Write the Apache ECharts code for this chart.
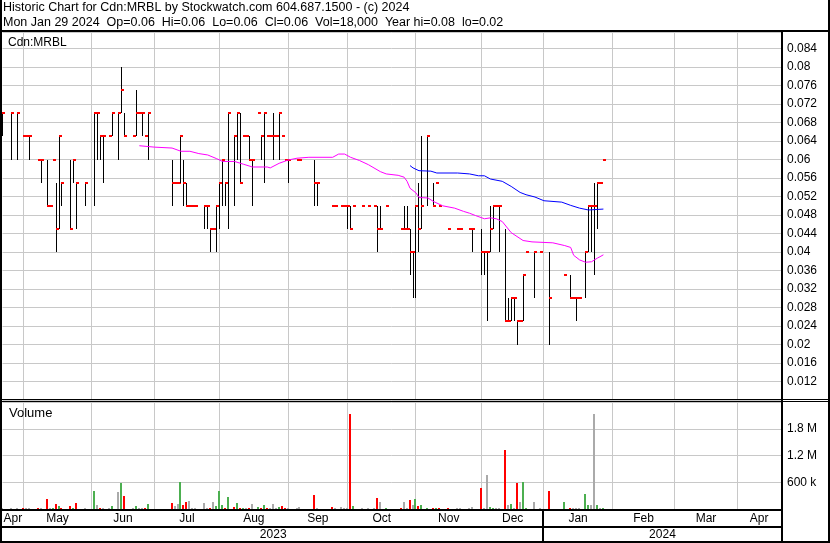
<!DOCTYPE html>
<html><head><meta charset="utf-8">
<script src="https://cdn.jsdelivr.net/npm/echarts@6/dist/echarts.min.js"></script>
<style>html,body{margin:0;padding:0;background:#fff;}#c{width:830px;height:543px;}</style>
</head><body><div id="c"></div>
<script>
const FONT_FAMILY = 'Liberation Sans, Arial, sans-serif';

// ---- texts ----
const headerTitle = 'Historic Chart for Cdn:MRBL by Stockwatch.com 604.687.1500 - (c) 2024';
const headerStats = 'Mon Jan 29 2024  Op=0.06  Hi=0.06  Lo=0.06  Cl=0.06  Vol=18,000  Year hi=0.08  lo=0.02';
const paneTitle = 'Cdn:MRBL';
const volumeTitle = 'Volume';

// ---- daily data ----
const dates = [
 '2023-04-20','2023-04-25','2023-04-27','2023-05-01','2023-05-02','2023-05-03','2023-05-08','2023-05-09','2023-05-11','2023-05-12','2023-05-15','2023-05-16','2023-05-17','2023-05-18','2023-05-23','2023-05-24','2023-05-25','2023-05-30','2023-06-02','2023-06-05','2023-06-06','2023-06-07','2023-06-09','2023-06-12','2023-06-14','2023-06-15','2023-06-16','2023-06-21','2023-06-22','2023-06-23','2023-06-26','2023-06-27','2023-06-28',
 '2023-07-10','2023-07-11','2023-07-12','2023-07-13','2023-07-14','2023-07-17','2023-07-18','2023-07-19','2023-07-20','2023-07-25','2023-07-26','2023-07-27','2023-07-28','2023-07-31',
 '2023-08-01','2023-08-02','2023-08-03','2023-08-04','2023-08-08','2023-08-09','2023-08-10','2023-08-11','2023-08-14','2023-08-15','2023-08-16','2023-08-18','2023-08-21','2023-08-22','2023-08-23','2023-08-24','2023-08-25','2023-08-28','2023-08-29','2023-08-30','2023-08-31',
 '2023-09-01','2023-09-06','2023-09-07','2023-09-14','2023-09-15','2023-09-22','2023-09-25','2023-09-27','2023-09-28','2023-09-29',
 '2023-10-02','2023-10-03','2023-10-06','2023-10-10','2023-10-12','2023-10-13','2023-10-16','2023-10-18','2023-10-25','2023-10-26','2023-10-27','2023-10-30','2023-10-31',
 '2023-11-01','2023-11-02','2023-11-03','2023-11-07','2023-11-09','2023-11-10','2023-11-13','2023-11-16','2023-11-21','2023-11-22','2023-11-27','2023-11-28',
 '2023-12-01','2023-12-04','2023-12-05','2023-12-06','2023-12-07','2023-12-08','2023-12-11','2023-12-13','2023-12-14','2023-12-15','2023-12-18','2023-12-19','2023-12-20','2023-12-21','2023-12-22','2023-12-27','2023-12-29',
 '2024-01-03','2024-01-10','2024-01-12','2024-01-15','2024-01-16','2024-01-17','2024-01-19','2024-01-22','2024-01-23','2024-01-24','2024-01-25','2024-01-26','2024-01-29'
];
const highs = [
 .07,.07,.07,.065,.065,.065,.06,.06,.06,.05,.06,.055,.065,.055,.06,.06,.055,.055,.07,.07,.065,.065,.065,.07,.07,.08,.07,.065,.075,.07,.07,.065,.07,
 .06,.055,.055,.065,.06,.055,.05,.05,.05,.05,.05,.045,.045,.05,
 .055,.06,.055,.07,.065,.07,.07,.065,.065,.065,.06,.07,.065,.07,.065,.065,.07,.065,.07,.065,.06,
 .06,.06,.06,.06,.055,.05,.05,.05,.05,.05,
 .05,.05,.05,.05,.05,.05,.05,.05,.045,.05,.05,.045,.04,
 .05,.055,.065,.065,.055,.055,.05,.045,.045,.045,.045,.045,
 .045,.04,.04,.05,.05,.05,.05,.045,.03,.03,.03,.025,.025,.035,.04,.04,.04,
 .04,.035,.035,.03,.03,.03,.04,.05,.05,.055,.055,.055,.06
];
const lows = [
 .065,.06,.06,.065,.065,.06,.06,.055,.05,.05,.06,.04,.045,.05,.045,.055,.045,.05,.05,.06,.06,.055,.065,.065,.06,.07,.065,.065,.065,.07,.065,.065,.06,
 .05,.055,.055,.055,.05,.05,.05,.05,.05,.045,.045,.04,.045,.04,
 .045,.05,.05,.045,.05,.06,.055,.065,.065,.06,.05,.07,.06,.055,.065,.065,.06,.065,.06,.065,.06,
 .055,.06,.06,.05,.05,.05,.05,.05,.05,.045,
 .045,.05,.05,.05,.05,.04,.045,.05,.045,.045,.045,.035,.03,
 .03,.04,.045,.05,.05,.055,.05,.045,.045,.045,.045,.04,
 .035,.035,.025,.04,.045,.05,.04,.025,.025,.025,.025,.02,.025,.025,.04,.03,.04,
 .02,.035,.03,.03,.025,.03,.03,.04,.04,.035,.045,.055,.06
];
const closes = [
 .07,.07,.07,.065,.065,.065,.06,.06,.05,.05,.06,.045,.065,.055,.045,.06,.055,.055,.07,.07,.065,.065,.065,.07,.07,.075,.065,.065,.07,.07,.07,.065,.07,
 .055,.055,.055,.065,.055,.05,.05,.05,.05,.05,.05,.045,.045,.05,
 .055,.06,.055,.07,.065,.07,.055,.065,.065,.06,.06,.07,.065,.07,.065,.065,.065,.065,.07,.065,.06,
 .06,.06,.06,.055,.055,.05,.05,.05,.05,.05,
 .045,.05,.05,.05,.05,.045,.045,.05,.045,.045,.045,.04,.04,
 .05,.045,.05,.065,.05,.055,.05,.045,.045,.045,.045,.045,
 .04,.04,.04,.045,.05,.05,.05,.025,.025,.03,.03,.025,.025,.035,.04,.04,.04,
 .03,.035,.03,.03,.03,.03,.04,.05,.05,.05,.055,.055,.06
];
const volumes = [
 15000,15000,15000,30000,15000,15000,30000,15000,224000,20000,30000,112000,67000,30000,67000,30000,135000,15000,404000,90000,30000,15000,15000,67000,381000,583000,292000,15000,67000,30000,30000,30000,112000,
 135000,67000,112000,606000,90000,157000,180000,20000,20000,135000,20000,30000,157000,67000,
 404000,90000,30000,269000,45000,135000,30000,30000,30000,30000,112000,45000,30000,90000,30000,20000,112000,20000,45000,67000,30000,
 20000,20000,45000,314000,20000,45000,20000,45000,30000,30000,
 2130000,67000,20000,20000,20000,247000,157000,30000,20000,157000,30000,202000,90000,
 224000,67000,90000,30000,30000,30000,30000,30000,20000,20000,20000,45000,
 471000,30000,763000,45000,20000,20000,20000,1320000,90000,112000,30000,583000,157000,606000,30000,157000,20000,
 404000,157000,30000,20000,20000,20000,336000,90000,90000,2130000,90000,30000,18000
];

// ---- moving averages ----
const maPinkDates = ['2023-06-23','2023-06-30','2023-07-10','2023-07-13','2023-07-18','2023-07-21','2023-07-26','2023-07-31','2023-08-02','2023-08-08','2023-08-11','2023-08-16','2023-08-23','2023-08-24','2023-08-29','2023-09-01','2023-09-06','2023-09-12','2023-09-22','2023-09-26','2023-09-28','2023-10-02','2023-10-05','2023-10-10','2023-10-16','2023-10-18','2023-10-24','2023-10-26','2023-10-27','2023-10-30','2023-11-01','2023-11-02','2023-11-07','2023-11-09','2023-11-14','2023-11-20','2023-11-23','2023-11-27','2023-11-29','2023-12-04','2023-12-06','2023-12-08','2023-12-12','2023-12-15','2023-12-21','2023-12-26','2024-01-04','2024-01-10','2024-01-12','2024-01-15','2024-01-17','2024-01-19','2024-01-23','2024-01-25','2024-01-29'];
const maPinkValues = [.0630,.0627,.0625,.0618,.0618,.0613,.0610,.0602,.0596,.0596,.0590,.0584,.0584,.0582,.0592,.0599,.0603,.0605,.0605,.0612,.0612,.0605,.0598,.0589,.0574,.0569,.0566,.0562,.0553,.0538,.0528,.0518,.0517,.0509,.0500,.0495,.0488,.0484,.0479,.0472,.0474,.0472,.0466,.0442,.0425,.0422,.0420,.0414,.0410,.0393,.0383,.0378,.0379,.0387,.0394];
const maBlueDates = ['2023-10-30','2023-10-31','2023-11-02','2023-11-08','2023-11-10','2023-11-21','2023-11-27','2023-11-30','2023-12-04','2023-12-06','2023-12-12','2023-12-15','2023-12-20','2023-12-22','2023-12-27','2024-01-01','2024-01-09','2024-01-12','2024-01-17','2024-01-22','2024-01-29'];
const maBlueValues = [.0587,.0582,.0576,.0575,.0571,.0571,.0569,.0565,.0565,.0558,.0553,.0542,.0529,.0524,.0519,.0511,.0508,.0501,.0495,.0491,.0493];

// ---- axes ----
const axisStart = '2023-04-20';   // first weekday slot on the time axis
const axisSlots = 261.7;          // weekday slots visible
const monthStarts = ['2023-05-01','2023-06-01','2023-07-01','2023-08-01','2023-09-01','2023-10-01','2023-11-01','2023-12-01','2024-01-01','2024-02-01','2024-03-01','2024-04-01'];
const monthNames = ['Apr','May','Jun','Jul','Aug','Sep','Oct','Nov','Dec','Jan','Feb','Mar','Apr'];
const yearStarts = ['2024-01-01'];
const yearNames = ['2023','2024'];
const priceMin = 0.008, priceMax = 0.0876, priceStep = 0.004;
const priceLabelMin = 0.012, priceLabelMax = 0.084;
const volumeMax = 2400000, volumeStep = 600000;
const volumeLabels = {600000: '600 k', 1200000: '1.2 M', 1800000: '1.8 M'};

// weekday slot index (weekends fall back to the previous weekday)
function slot(s) {
  const p = s.split('-').map(Number);
  const t = Date.UTC(p[0], p[1] - 1, p[2]);
  const a = axisStart.split('-').map(Number);
  let n = -1;
  for (let u = Date.UTC(a[0], a[1] - 1, a[2]); u <= t; u += 86400000) {
    const w = new Date(u).getUTCDay();
    if (w !== 0 && w !== 6) n++;
  }
  return n;
}

const ohlc = dates.map((d, k) => [slot(d), highs[k], lows[k], closes[k]]);
const vol = dates.map((d, k) => {
  const dir = k === 0 ? 0 : Math.sign(Math.round((closes[k] - closes[k - 1]) * 10000));
  return [slot(d), volumes[k], dir];
});
const bounds = monthStarts.map(slot);
const edges = [0].concat(bounds, [axisSlots]);
const monthLabelData = monthNames.map((n, k) => [(edges[k] + edges[k + 1]) / 2, k]);
const yBounds = yearStarts.map(slot);
const yEdges = [0].concat(yBounds, [axisSlots]);
const yearLabelData = yearNames.map((n, k) => [(yEdges[k] + yEdges[k + 1]) / 2, k]);

const GRID = '#c8c8c8';
const volColor = {'1': '#4caf50', '-1': '#ff0000', '0': '#aaaaaa'};

function gridLines(gi, ymin) {
  return {
    type: 'custom', xAxisIndex: gi, yAxisIndex: gi, silent: true, z: 1,
    data: bounds.map(b => [b, ymin]),
    renderItem(params, api) {
      const cs = params.coordSys;
      const x = Math.floor(api.coord([api.value(0), api.value(1)])[0]) + 0.5;
      return {type: 'line', shape: {x1: x, y1: cs.y, x2: x, y2: cs.y + cs.height}, style: {stroke: GRID, lineWidth: 1}};
    }
  };
}

function txt(o) {
  return Object.assign({fill: '#000', fontFamily: FONT_FAMILY}, o);
}

const chart = echarts.init(document.getElementById('c'), null, {renderer: 'canvas'});
chart.setOption({
  animation: false,
  backgroundColor: '#ffffff',
  grid: [
    {left: 2.5, right: 49, top: 32, height: 368},
    {left: 2.5, right: 49, top: 402, height: 107}
  ],
  xAxis: [
    {type: 'value', gridIndex: 0, min: 0, max: axisSlots, show: false},
    {type: 'value', gridIndex: 1, min: 0, max: axisSlots, show: false}
  ],
  yAxis: [
    {type: 'value', gridIndex: 0, position: 'right', min: priceMin, max: priceMax, interval: priceStep,
     axisLine: {show: false}, axisTick: {show: false},
     splitLine: {show: true, lineStyle: {color: GRID, width: 1}},
     axisLabel: {show: true, margin: 6, color: '#000', fontSize: 12, fontFamily: FONT_FAMILY, showMinLabel: true, showMaxLabel: true,
       formatter: v => (v > priceLabelMin - 1e-6 && v < priceLabelMax + 1e-6) ? String(+v.toFixed(3)) : ''}},
    {type: 'value', gridIndex: 1, position: 'right', min: 0, max: volumeMax, interval: volumeStep,
     axisLine: {show: false}, axisTick: {show: false},
     splitLine: {show: true, lineStyle: {color: GRID, width: 1}},
     axisLabel: {show: true, margin: 6, color: '#000', fontSize: 12, fontFamily: FONT_FAMILY,
       formatter: v => volumeLabels[Math.round(v)] || ''}}
  ],
  series: [
    gridLines(0, priceMin),
    gridLines(1, 0),
    {
      type: 'custom', name: 'price', xAxisIndex: 0, yAxisIndex: 0, z: 3, silent: true,
      dimensions: ['x', 'high', 'low', 'close'], encode: {x: 0, y: [1, 2, 3]},
      data: ohlc,
      renderItem(params, api) {
        const i = api.value(0), h = api.value(1), l = api.value(2), c = api.value(3);
        const ph = api.coord([i, h]), pl = api.coord([i, l]), pc = api.coord([i, c]);
        const x = Math.floor(ph[0]);
        const ch = [];
        if (h > l) {
          const y1 = Math.round(ph[1]), y2 = Math.round(pl[1]);
          ch.push({type: 'rect', shape: {x: x, y: y1, width: 1, height: Math.max(1, y2 - y1)}, style: {fill: '#000'}});
        }
        ch.push({type: 'rect', shape: {x: x, y: Math.round(pc[1]) - 1, width: 3, height: 2}, style: {fill: '#ff0000'}});
        return {type: 'group', children: ch};
      }
    },
    {type: 'line', name: 'MA1', xAxisIndex: 0, yAxisIndex: 0, z: 4, silent: true, symbol: 'none',
     data: maPinkDates.map((d, k) => [slot(d), maPinkValues[k]]), lineStyle: {color: '#ff00ff', width: 1}},
    {type: 'line', name: 'MA2', xAxisIndex: 0, yAxisIndex: 0, z: 4, silent: true, symbol: 'none',
     data: maBlueDates.map((d, k) => [slot(d), maBlueValues[k]]), lineStyle: {color: '#0000ff', width: 1}},
    {
      type: 'custom', name: 'volume', xAxisIndex: 1, yAxisIndex: 1, z: 3, silent: true,
      dimensions: ['x', 'vol', 'dir'], encode: {x: 0, y: 1},
      data: vol,
      renderItem(params, api) {
        const i = api.value(0), v = api.value(1), dir = api.value(2);
        const top = api.coord([i, v]), base = api.coord([i, 0]);
        const x = Math.floor(top[0]);
        const yb = Math.round(base[1]);
        const h = Math.max(1, yb - Math.round(top[1]));
        return {type: 'rect', shape: {x: x - 1, y: yb - h, width: 2, height: h}, style: {fill: volColor[String(dir)]}};
      }
    },
    {
      type: 'custom', name: 'months', xAxisIndex: 1, yAxisIndex: 1, z: 5, silent: true,
      data: monthLabelData,
      renderItem(params, api) {
        const cs = params.coordSys;
        const x = api.coord([api.value(0), 0])[0];
        const k = api.value(1);
        return {type: 'text', x: x, y: cs.y + cs.height + 9.5,
          style: txt({text: monthNames[k], font: '12px ' + FONT_FAMILY, fontSize: 12, align: 'center', verticalAlign: 'middle', textAlign: 'center', textVerticalAlign: 'middle'})};
      }
    },
    {
      type: 'custom', name: 'years', xAxisIndex: 1, yAxisIndex: 1, z: 5, silent: true,
      data: yearLabelData,
      renderItem(params, api) {
        const cs = params.coordSys;
        const x = api.coord([api.value(0), 0])[0];
        const k = api.value(1);
        return {type: 'text', x: x, y: cs.y + cs.height + 26,
          style: txt({text: yearNames[k], font: '12px ' + FONT_FAMILY, fontSize: 12, align: 'center', verticalAlign: 'middle', textAlign: 'center', textVerticalAlign: 'middle'})};
      }
    },
    {
      type: 'custom', name: 'yearSep', xAxisIndex: 1, yAxisIndex: 1, z: 5, silent: true,
      data: yBounds.map(b => [b, 0]),
      renderItem(params, api) {
        const cs = params.coordSys;
        const x = Math.floor(api.coord([api.value(0), 0])[0]);
        return {type: 'rect', shape: {x: x - 1, y: cs.y + cs.height, width: 2, height: 32}, style: {fill: '#000'}};
      }
    }
  ],
  graphic: [
    {type: 'text', x: 3, y: 7.5, z: 10, style: txt({text: headerTitle, font: '12.5px ' + FONT_FAMILY, fontSize: 12.5, verticalAlign: 'middle', textVerticalAlign: 'middle'})},
    {type: 'text', x: 3, y: 22.5, z: 10, style: txt({text: headerStats, font: '12.5px ' + FONT_FAMILY, fontSize: 12.5, verticalAlign: 'middle', textVerticalAlign: 'middle'})},
    {type: 'text', x: 8, y: 42.5, z: 10, style: txt({text: paneTitle, font: '12px ' + FONT_FAMILY, fontSize: 12, verticalAlign: 'middle', textVerticalAlign: 'middle'})},
    {type: 'text', x: 9, y: 413, z: 10, style: txt({text: volumeTitle, font: '13px ' + FONT_FAMILY, fontSize: 13, verticalAlign: 'middle', textVerticalAlign: 'middle'})},
    {type: 'rect', z: 20, shape: {x: 0, y: 0, width: 2, height: 543}, style: {fill: '#000'}},
    {type: 'rect', z: 20, shape: {x: 828, y: 0, width: 2, height: 543}, style: {fill: '#000'}},
    {type: 'rect', z: 20, shape: {x: 0, y: 30, width: 830, height: 2}, style: {fill: '#000'}},
    {type: 'rect', z: 20, shape: {x: 781, y: 30, width: 2, height: 513}, style: {fill: '#000'}},
    {type: 'rect', z: 20, shape: {x: 0, y: 399, width: 830, height: 1}, style: {fill: '#000'}},
    {type: 'rect', z: 20, shape: {x: 0, y: 401, width: 830, height: 1}, style: {fill: '#000'}},
    {type: 'rect', z: 20, shape: {x: 0, y: 509, width: 781, height: 2}, style: {fill: '#000'}},
    {type: 'rect', z: 20, shape: {x: 0, y: 526, width: 781, height: 2}, style: {fill: '#000'}},
    {type: 'rect', z: 20, shape: {x: 0, y: 541, width: 830, height: 2}, style: {fill: '#000'}}
  ]
});
</script></body></html>
